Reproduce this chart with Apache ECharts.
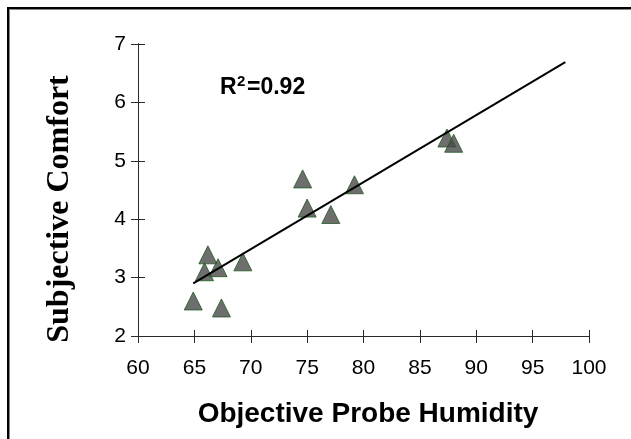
<!DOCTYPE html>
<html>
	<head>
		<meta charset="utf-8" />
		<title>Subjective Comfort vs Objective Probe Humidity</title>
		<script type="text/javascript" src="https://cdn.jsdelivr.net/npm/echarts@6/dist/echarts.min.js"></script>
		<style>
			html, body { margin: 0; padding: 0; background: #fff; }
			#chart { width: 631px; height: 439px; }
		</style>
	</head>
	<body>
		<div id="chart"></div>
		<script type="text/javascript">
			var humidity = [64.9, 65.9, 66.2, 67.1, 67.4, 69.3, 74.6, 75.0, 77.1, 79.2, 87.4, 88.0];
			var comfort = [2.60, 3.10, 3.39, 3.17, 2.48, 3.27, 4.69, 4.19, 4.08, 4.59, 5.39, 5.30];
			// ends of the drawn trend line
			var trendX = [64.9, 97.9];
			var trendY = [2.90, 6.69];
			var xTicks = [60, 100, 5];
			var yTicks = [2, 7, 1];
			var fitLabel = ['R', '2', '=0.92'];

			var points = [];
			for (var i = 0; i < humidity.length; i++) {
				points.push([humidity[i], comfort[i]]);
			}
			var trend = [[trendX[0], trendY[0]], [trendX[1], trendY[1]]];

			var axisColor = '#2a2a2a';
			var sans = '"Liberation Sans", Arial, sans-serif';

			// two copies of each axis: one with outside ticks + labels, one with inside ticks,
			// so the ticks cross the axis line like in the original
			function xAxisOf(inside, labels) {
				return {
					type: 'value', position: 'bottom', min: xTicks[0], max: xTicks[1], interval: xTicks[2],
					axisLine: { show: true, onZero: false, lineStyle: { color: axisColor, width: 1 } },
					axisTick: { show: true, inside: inside, length: inside ? 6 : 7, lineStyle: { color: axisColor } },
					axisLabel: { show: labels, margin: 22, color: '#000', fontSize: 21, fontFamily: sans },
					splitLine: { show: false }
				};
			}
			function yAxisOf(inside, labels) {
				return {
					type: 'value', position: 'left', min: yTicks[0], max: yTicks[1], interval: yTicks[2],
					axisLine: { show: true, onZero: false, lineStyle: { color: axisColor, width: 1 } },
					axisTick: { show: true, inside: inside, length: 7, lineStyle: { color: axisColor } },
					axisLabel: { show: labels, margin: 12, color: '#000', fontSize: 21, fontFamily: sans },
					splitLine: { show: false }
				};
			}

			var myChart = echarts.init(document.getElementById('chart'));
			var option = {
				backgroundColor: '#fff',
				animation: false,
				grid: { left: 138, right: 42, top: 44, bottom: 103, containLabel: false },
				xAxis: [xAxisOf(false, true), xAxisOf(true, false)],
				yAxis: [yAxisOf(false, true), yAxisOf(true, false)],
				series: [{
					type: 'scatter',
					data: points,
					symbol: 'triangle',
					symbolSize: [18, 18],
					itemStyle: { color: '#4a4a4a', borderColor: '#1f5a1f', borderWidth: 1 },
					z: 3
				}, {
					type: 'line',
					data: trend,
					symbol: 'none',
					lineStyle: { color: '#000', width: 2 },
					z: 4
				}],
				graphic: [
					// frame, only top and left edges are visible
					{ type: 'rect', shape: { x: 7, y: 7, width: 624, height: 2 }, style: { fill: '#000' } },
					{ type: 'rect', shape: { x: 7, y: 9, width: 624, height: 1 }, style: { fill: '#888' } },
					{ type: 'rect', shape: { x: 7, y: 7, width: 2, height: 432 }, style: { fill: '#000' } },
					{ type: 'rect', shape: { x: 9, y: 9, width: 1, height: 430 }, style: { fill: '#888' } },
					{
						type: 'text', x: 60, y: 209, rotation: Math.PI / 2,
						style: {
							text: 'Subjective Comfort', fill: '#000',
							font: 'bold 32px "Liberation Serif", "Times New Roman", serif',
							align: 'center', verticalAlign: 'middle'
						}
					},
					{
						type: 'text', x: 368, y: 414,
						style: {
							text: 'Objective Probe Humidity', fill: '#000',
							font: 'bold 28px ' + sans,
							align: 'center', verticalAlign: 'middle'
						}
					},
					{
						type: 'text', x: 220, y: 88,
						style: { text: fitLabel[0], fill: '#000', font: 'bold 23px ' + sans, align: 'left', verticalAlign: 'middle' }
					},
					{
						type: 'text', x: 237, y: 82,
						style: { text: fitLabel[1], fill: '#000', font: 'bold 15px ' + sans, align: 'left', verticalAlign: 'middle' }
					},
					{
						type: 'text', x: 247, y: 88,
						style: { text: fitLabel[2], fill: '#000', font: 'bold 23px ' + sans, align: 'left', verticalAlign: 'middle' }
					}
				]
			};
			myChart.setOption(option);
			window.onresize = myChart.resize;
		</script>
	</body>
</html>
